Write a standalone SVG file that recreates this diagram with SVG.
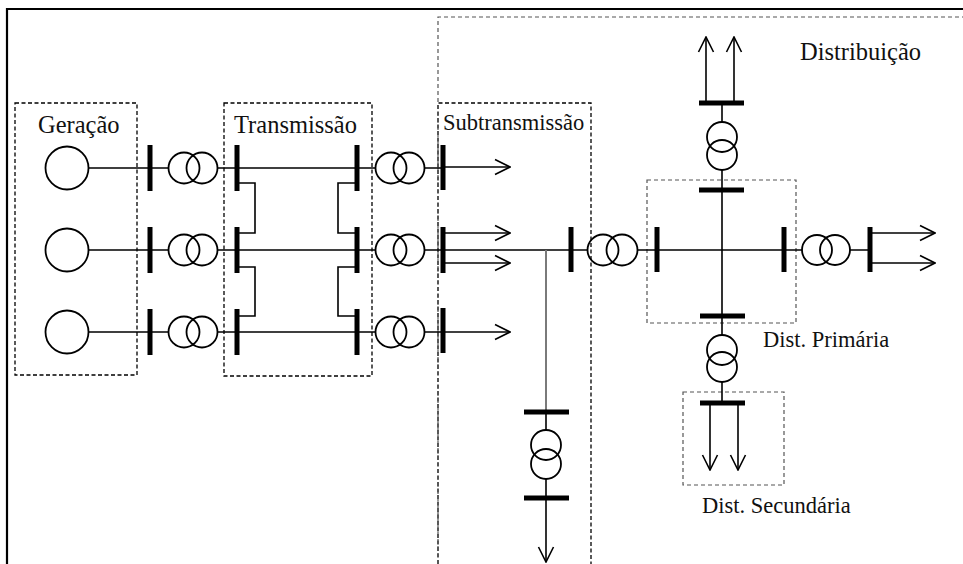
<svg xmlns="http://www.w3.org/2000/svg" width="963" height="564" viewBox="0 0 963 564">
<style>
.ln{stroke:#000;stroke-width:1.6;fill:none}
.gl{stroke:#7a7a7a;stroke-width:2;fill:none}
.bus{stroke:#000;stroke-width:5;fill:none}
.ci{stroke:#000;stroke-width:1.8;fill:none}
.box{stroke:#000;stroke-width:1.3;fill:none;stroke-dasharray:4 2.5}
.gbox{stroke:#555;stroke-width:1.2;fill:none;stroke-dasharray:4 3}
.lbl{font-family:"Liberation Serif","Times New Roman",serif;font-size:22.5px;fill:#111}
.big{font-size:24.5px}
</style>
<defs>
<marker id="chev" viewBox="-17 -9 18 18" markerWidth="18" markerHeight="18" refX="0" refY="0" orient="auto" markerUnits="userSpaceOnUse">
<path d="M-15,-7.5 L0,0 L-15,7.5" fill="none" stroke="#000" stroke-width="1.6"/>
</marker>
</defs>
<rect x="0" y="0" width="963" height="564" fill="#fff"/>
<g id="frame">
<path d="M7,564 V9 H963" fill="none" stroke="#000" stroke-width="2.2"/>
</g>
<g id="regions">
<rect id="geracao-box" class="box" x="15" y="103" width="122" height="272"/>
<rect id="transmissao-box" class="box" x="224" y="103" width="148" height="273"/>
<path id="subtransmissao-box" class="box" d="M438,564 V103 H591 V564"/>
<path id="distribuicao-box" class="gbox" d="M438,564 V17 H963"/>
<rect id="dist-primaria-box" class="gbox" x="647" y="180" width="149" height="143"/>
<rect id="dist-secundaria-box" class="gbox" x="683" y="392" width="101" height="93"/>
</g>
<g id="labels">
<text class="lbl big" x="38" y="133">Geração</text>
<text class="lbl big" x="234" y="133">Transmissão</text>
<text class="lbl" x="443" y="130">Subtransmissão</text>
<text class="lbl big" x="800" y="60">Distribuição</text>
<text class="lbl" x="763" y="347">Dist. Primária</text>
<text class="lbl" x="702" y="513">Dist. Secundária</text>
</g>
<g id="connectors">
<path class="ln" d="M88,168 H168 M218,168 H376 M424,168 H443"/>
<path class="ln" d="M88,250 H168 M218,250 H376 M424,250 H443"/>
<path class="ln" d="M88,332 H168 M218,332 H376 M424,332 H443"/>
<path class="ln" d="M237,183 H255 V233 H237 M237,267 H255 V316 H237"/>
<path class="ln" d="M357,183 H338 V233 H357 M357,267 H338 V316 H357"/>
<path class="ln" d="M443,167 H510" marker-end="url(#chev)"/>
<path class="ln" d="M443,233 H510" marker-end="url(#chev)"/>
<path class="ln" d="M443,263 H510" marker-end="url(#chev)"/>
<path class="ln" d="M443,332 H510" marker-end="url(#chev)"/>
<path class="ln" d="M443,250 H588 M638,250 H657 H802 M850,250 H870"/>
<path class="gl" d="M546,250 V412"/>
<path class="ln" d="M546,412 V430 M546,479 V498"/>
<path class="ln" d="M546,498 V562" marker-end="url(#chev)"/>
<path class="ln" d="M722,103 V122 M722,170 V335 M722,382 V403"/>
<path class="ln" d="M706,103 V37" marker-end="url(#chev)"/>
<path class="ln" d="M734,103 V37" marker-end="url(#chev)"/>
<path class="ln" d="M710,403 V470" marker-end="url(#chev)"/>
<path class="ln" d="M738,403 V470" marker-end="url(#chev)"/>
<path class="ln" d="M870,233 H935" marker-end="url(#chev)"/>
<path class="ln" d="M870,263 H935" marker-end="url(#chev)"/>
</g>
<g id="generators">
<circle id="gen1" class="ci" cx="67" cy="168" r="21.5"/>
<circle id="gen2" class="ci" cx="67" cy="250" r="21.5"/>
<circle id="gen3" class="ci" cx="67" cy="332" r="21.5"/>
</g>
<g id="buses">
<path class="bus" d="M150,145 V191 M150,227 V273 M150,309 V355"/>
<path class="bus" d="M237,145 V191 M237,227 V273 M237,309 V355"/>
<path class="bus" d="M357,145 V191 M357,227 V273 M357,309 V355"/>
<path class="bus" d="M443,145 V190 M443,227 V273 M443,308 V353"/>
<path class="bus" d="M571,227 V272"/>
<path class="bus" d="M657,227 V272"/>
<path class="bus" d="M784,227 V272"/>
<path class="bus" d="M870,227 V272"/>
<path class="bus" d="M699,103 H744 M699,190 H744 M700,316 H745 M700,403 H745"/>
<path class="bus" d="M524,412 H569 M524,498 H569"/>
</g>
<g id="transformers">
<g id="t-gen1"><circle class="ci" cx="184" cy="168" r="15.5"/><circle class="ci" cx="202" cy="168" r="15.5"/></g>
<g id="t-gen2"><circle class="ci" cx="184" cy="250" r="15.5"/><circle class="ci" cx="202" cy="250" r="15.5"/></g>
<g id="t-gen3"><circle class="ci" cx="184" cy="332" r="15.5"/><circle class="ci" cx="202" cy="332" r="15.5"/></g>
<g id="t-sub1"><circle class="ci" cx="391" cy="168" r="15.5"/><circle class="ci" cx="409" cy="168" r="15.5"/></g>
<g id="t-sub2"><circle class="ci" cx="391" cy="250" r="15.5"/><circle class="ci" cx="409" cy="250" r="15.5"/></g>
<g id="t-sub3"><circle class="ci" cx="391" cy="332" r="15.5"/><circle class="ci" cx="409" cy="332" r="15.5"/></g>
<g id="t-dist"><circle class="ci" cx="603" cy="250" r="15.5"/><circle class="ci" cx="622" cy="250" r="15.5"/></g>
<g id="t-right"><circle class="ci" cx="817" cy="250" r="15"/><circle class="ci" cx="835" cy="250" r="15"/></g>
<g id="t-top"><circle class="ci" cx="722" cy="137" r="15"/><circle class="ci" cx="722" cy="155" r="15"/></g>
<g id="t-bottom"><circle class="ci" cx="722" cy="350" r="15"/><circle class="ci" cx="722" cy="367" r="15"/></g>
<g id="t-sub-down"><circle class="ci" cx="546" cy="445" r="15"/><circle class="ci" cx="546" cy="464" r="15"/></g>
</g>
</svg>
